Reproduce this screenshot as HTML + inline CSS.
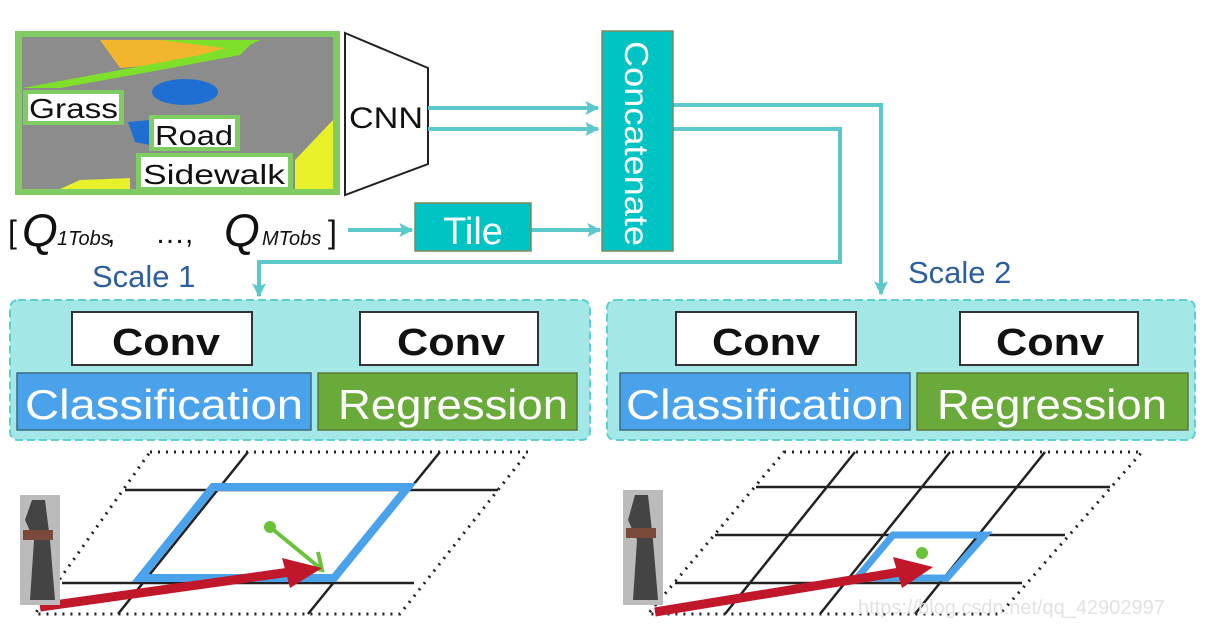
<!DOCTYPE html>
<html><head><meta charset="utf-8"><style>
body{margin:0;background:#fff;width:1209px;height:639px;overflow:hidden;font-family:"Liberation Sans",sans-serif}
</style></head><body>
<svg width="1209" height="639" viewBox="0 0 1209 639" xmlns="http://www.w3.org/2000/svg" font-family="Liberation Sans, sans-serif">
<defs>
<marker id="tb" viewBox="0 0 10 10" markerWidth="18" markerHeight="14" refX="9" refY="5" orient="auto" markerUnits="userSpaceOnUse"><path d="M0,0 L10,5 L0,10 L2,5 Z" fill="#5cc8cc"/></marker>
</defs>
<!-- map image -->
<rect x="15" y="31" width="325" height="164" fill="#7fcc63"/>
<rect x="22" y="37" width="311" height="152" fill="#8c8c8c"/>
<path d="M100,40 L230,40 L240,50 L190,62 L120,68 Z" fill="#f2b62c"/>
<path d="M22,88 L120,70 L200,55 L255,40 L240,55 L160,70 L60,88 Z" fill="#7ee02a"/>
<path d="M160,40 L260,40 L240,50 Z" fill="#7ee02a"/>
<ellipse cx="185" cy="92" rx="33" ry="13" fill="#1f6ed1"/>
<path d="M128,122 L150,120 L150,145 L135,142 Z" fill="#1f6ed1"/>
<path d="M295,160 L333,120 L333,189 L295,189 Z" fill="#e8f02a"/>
<path d="M60,189 L80,180 L130,178 L130,189 Z" fill="#e8f02a"/>
<rect x="23" y="90" width="101" height="35" fill="#7fcc63"/><rect x="28" y="94" width="91" height="27" fill="#fff"/>
<text x="29" y="118" font-size="28" fill="#111" textLength="89" lengthAdjust="spacingAndGlyphs">Grass</text>
<rect x="149" y="115" width="91" height="36" fill="#7fcc63"/><rect x="154" y="119" width="81" height="28" fill="#fff"/>
<text x="155" y="145" font-size="28" fill="#111" textLength="78" lengthAdjust="spacingAndGlyphs">Road</text>
<rect x="136" y="153" width="157" height="36" fill="#7fcc63"/><rect x="141" y="157" width="147" height="30" fill="#fff"/>
<text x="143" y="184" font-size="28" fill="#111" textLength="142" lengthAdjust="spacingAndGlyphs">Sidewalk</text>
<!-- CNN -->
<path d="M345,33 L428,68 L428,164 L345,195 Z" fill="#fff" stroke="#222" stroke-width="2"/>
<text x="349" y="128" font-size="30" fill="#111" textLength="74" lengthAdjust="spacingAndGlyphs">CNN</text>
<!-- connectors -->
<g stroke="#5cc8cc" stroke-width="4" fill="none">
<path d="M428,108 L598,108" marker-end="url(#tb)"/>
<path d="M428,129 L598,129" marker-end="url(#tb)"/>
<path d="M673,105 L881,105 L881,294" marker-end="url(#tb)"/>
<path d="M673,129 L840,129 L840,262 L259,262 L259,296" marker-end="url(#tb)"/>
<path d="M348,230 L412,230" marker-end="url(#tb)"/>
<path d="M531,230 L600,230" marker-end="url(#tb)"/>
</g>
<!-- Concat -->
<rect x="602" y="31" width="71" height="220" fill="#00c4c4" stroke="#7a8a5a" stroke-width="1.5"/>
<text transform="translate(625,41) rotate(90)" font-size="33" fill="#fff" textLength="205" lengthAdjust="spacingAndGlyphs">Concatenate</text>
<rect x="415" y="203" width="116" height="48" fill="#00c4c4" stroke="#7a8a5a" stroke-width="1.5"/>
<text x="473" y="244" font-size="38" fill="#fff" text-anchor="middle">Tile</text>
<!-- Q -->
<text x="8" y="243" font-size="32" fill="#111">[</text>
<text x="22" y="246" font-size="46" font-style="italic" fill="#111">Q</text>
<text x="57" y="245" font-size="20" font-style="italic" fill="#111">1Tobs</text>
<text x="107" y="243" font-size="30" fill="#111">,</text>
<text x="155" y="243" font-size="30" fill="#111">…,</text>
<text x="224" y="246" font-size="46" font-style="italic" fill="#111">Q</text>
<text x="262" y="245" font-size="20" font-style="italic" fill="#111">MTobs</text>
<text x="328" y="243" font-size="32" fill="#111">]</text>
<!-- Scale labels -->
<text x="92" y="287" font-size="31" fill="#2b5f9e">Scale 1</text>
<text x="908" y="283" font-size="31" fill="#2b5f9e">Scale 2</text>
<!-- panels -->
<rect x="10" y="300" width="580" height="140" rx="8" fill="#a3e7e7" stroke="#5ccfd0" stroke-width="2" stroke-dasharray="8,4"/>
<rect x="607" y="300" width="588" height="140" rx="8" fill="#a3e7e7" stroke="#5ccfd0" stroke-width="2" stroke-dasharray="8,4"/>
<g stroke="#333" stroke-width="2" fill="#fff">
<rect x="72" y="312" width="180" height="53"/><rect x="360" y="312" width="178" height="53"/>
<rect x="676" y="312" width="180" height="53"/><rect x="960" y="312" width="178" height="53"/>
</g>
<g font-size="38" font-weight="bold" fill="#111">
<text x="112" y="355" textLength="108" lengthAdjust="spacingAndGlyphs">Conv</text><text x="397" y="355" textLength="108" lengthAdjust="spacingAndGlyphs">Conv</text>
<text x="712" y="355" textLength="108" lengthAdjust="spacingAndGlyphs">Conv</text><text x="996" y="355" textLength="108" lengthAdjust="spacingAndGlyphs">Conv</text>
</g>
<rect x="17" y="373" width="294" height="57" fill="#4aa3ea" stroke="#3a6a80" stroke-width="1.5"/>
<rect x="318" y="373" width="259" height="57" fill="#6aaa3a" stroke="#5a7a3a" stroke-width="1.5"/>
<rect x="620" y="373" width="290" height="57" fill="#4aa3ea" stroke="#3a6a80" stroke-width="1.5"/>
<rect x="917" y="373" width="271" height="57" fill="#6aaa3a" stroke="#5a7a3a" stroke-width="1.5"/>
<g font-size="42" fill="#fff">
<text x="25" y="419" textLength="278" lengthAdjust="spacingAndGlyphs">Classification</text><text x="338" y="419" textLength="230" lengthAdjust="spacingAndGlyphs">Regression</text>
<text x="626" y="419" textLength="278" lengthAdjust="spacingAndGlyphs">Classification</text><text x="937" y="419" textLength="230" lengthAdjust="spacingAndGlyphs">Regression</text>
</g>
<!-- left grid -->
<g stroke="#222" stroke-width="3" stroke-dasharray="2,6" fill="none">
<path d="M150,452 L528,452 L400,614 L35,614 Z"/>
</g>
<g stroke="#222" stroke-width="2.5">
<line x1="125" y1="490" x2="498" y2="490"/><line x1="62" y1="583" x2="414" y2="583"/>
<line x1="248" y1="452" x2="118" y2="614"/><line x1="440" y1="452" x2="308" y2="614"/>
</g>
<path d="M213,487 L408,487 L334,578 L140,578 Z" fill="none" stroke="#4aa3ea" stroke-width="8"/>
<circle cx="270" cy="527" r="6" fill="#6ac23a"/>
<path d="M270,527 L320,568 M305,566 L322,570 L318,552" stroke="#6ac23a" stroke-width="4" fill="none"/>
<path d="M40,607 L290,572" stroke="#c0182a" stroke-width="9"/>
<path d="M282,558 L322,568 L290,588 Z" fill="#c0182a"/>
<rect x="20" y="495" width="40" height="110" fill="#bbb"/>
<path d="M32,500 L45,500 L50,540 L55,600 L30,600 L34,540 L25,520 Z" fill="#444"/>
<rect x="23" y="530" width="30" height="10" fill="#7a4a3a"/>
<!-- right grid -->
<g stroke="#222" stroke-width="3" stroke-dasharray="2,6" fill="none">
<path d="M784,452 L1142,452 L1000,614 L648,614 Z"/>
</g>
<g stroke="#222" stroke-width="2.5">
<line x1="756" y1="487" x2="1110" y2="487"/><line x1="715" y1="535" x2="1065" y2="535"/><line x1="675" y1="583" x2="1022" y2="583"/>
<line x1="855" y1="452" x2="725" y2="614"/><line x1="950" y1="452" x2="820" y2="614"/><line x1="1045" y1="452" x2="915" y2="614"/>
</g>
<path d="M893,535 L985,535 L947,578 L857,578 Z" fill="none" stroke="#4aa3ea" stroke-width="7"/>
<circle cx="922" cy="553" r="6" fill="#6ac23a"/>
<path d="M655,612 L900,572" stroke="#c0182a" stroke-width="9"/>
<path d="M893,557 L933,567 L902,588 Z" fill="#c0182a"/>
<rect x="623" y="490" width="40" height="115" fill="#bbb"/>
<path d="M635,495 L648,495 L653,540 L658,600 L633,600 L637,540 L628,520 Z" fill="#444"/>
<rect x="626" y="528" width="30" height="10" fill="#7a4a3a"/>
<text x="858" y="614" font-size="20" fill="#e2e2e2">https://blog.csdn.net/qq_42902997</text>
</svg>
</body></html>
